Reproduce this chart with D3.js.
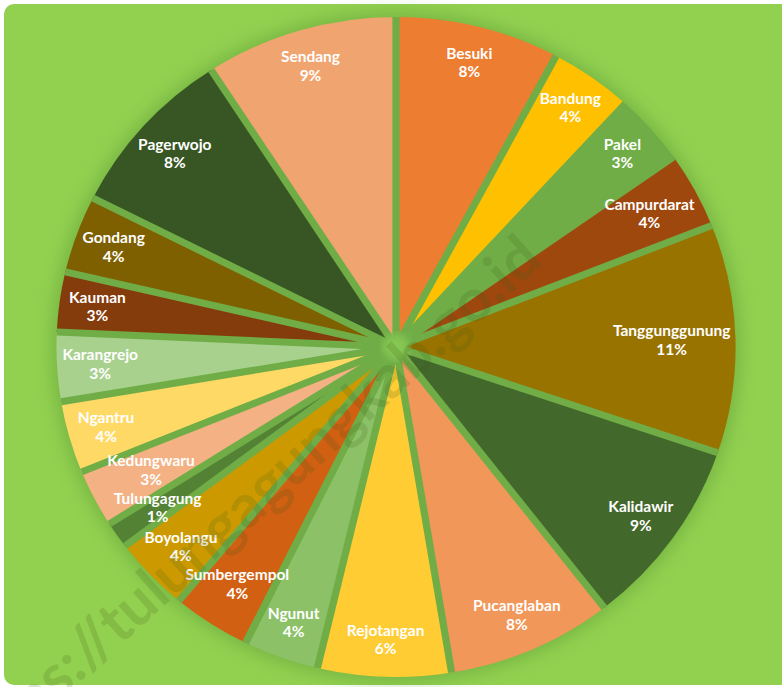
<!DOCTYPE html>
<html>
<head>
<meta charset="utf-8">
<script src="https://cdn.jsdelivr.net/npm/d3@7"></script>
<style>
  html, body { margin: 0; padding: 0; background: #fff; }
  svg { display: block; }
</style>
</head>
<body>
<div class="piechart"></div>
<script>
// luas wilayah per kecamatan (km2), urut searah jarum jam dari atas
var kecamatan = ["Besuki", "Bandung", "Pakel", "Campurdarat", "Tanggunggunung", "Kalidawir",
  "Pucanglaban", "Rejotangan", "Ngunut", "Sumbergempol", "Boyolangu", "Tulungagung",
  "Kedungwaru", "Ngantru", "Karangrejo", "Kauman", "Gondang", "Pagerwojo", "Sendang"];
var luas = [82.16, 41.96, 36.06, 39.56, 117.73, 97.81, 82.94, 66.62, 37.70, 39.28,
  38.44, 13.67, 29.74, 37.03, 35.54, 30.84, 39.92, 88.22, 96.27];
var warna = ["#ED7D31", "#FFC000", "#70AD47", "#9E480E", "#997300", "#43682B",
  "#F1975A", "#FFCD33", "#8CC168", "#D26012", "#CC9A00", "#548235",
  "#F4B183", "#FFD966", "#A9D18E", "#843C0C", "#7F6000", "#375623", "#F0A570"];
var watermark = "https://tulungagungkab.go.id";

var width = 782, height = 687;
var cx = 396, cy = 347, R = 330, sx = 1.029;

var svg = d3.select(".piechart").append("svg")
  .attr("width", width).attr("height", height);

var defs = svg.append("defs");
defs.append("filter").attr("id", "glow").attr("x", "-20%").attr("y", "-20%")
  .attr("width", "140%").attr("height", "140%")
  .append("feGaussianBlur").attr("stdDeviation", 8);
defs.append("filter").attr("id", "soft")
  .append("feGaussianBlur").attr("stdDeviation", 4);

// latar hijau
svg.append("rect").attr("x", 4).attr("y", 4).attr("width", 790).attr("height", 681)
  .attr("rx", 10).attr("fill", "#92D050");

var total = d3.sum(luas);
var pie = d3.pie().sort(null).value(function(d){ return d; });
var arcs = pie(luas);
var arc = d3.arc().innerRadius(0).outerRadius(R);

var plot = svg.append("g").attr("transform", "translate(" + cx + "," + cy + ")");

// bayangan tipis di sekeliling lingkaran
plot.append("ellipse").attr("rx", (R + 5) * sx).attr("ry", R + 5)
  .attr("fill", "#5f9e37").attr("opacity", 0.5).attr("filter", "url(#glow)");

var slices = plot.append("g").attr("transform", "scale(" + sx + ",1)");
slices.selectAll("path")
  .data(arcs)
  .enter().append("path")
  .attr("d", arc)
  .attr("fill", function(d, i){ return warna[i]; });

// garis pemisah antar irisan
slices.selectAll("line")
  .data(arcs)
  .enter().append("line")
  .attr("x1", 0).attr("y1", 0)
  .attr("x2", function(d){ return R * Math.sin(d.startAngle); })
  .attr("y2", function(d){ return -R * Math.cos(d.startAngle); })
  .attr("stroke", "#70AD47")
  .attr("stroke-width", 7);

plot.append("circle").attr("r", 13).attr("fill", "#86c853").attr("filter", "url(#soft)");

// watermark
svg.append("text")
  .attr("transform", "translate(545,263) rotate(-42)")
  .attr("text-anchor", "end")
  .style("font-family", "Lato, sans-serif")
  .style("font-weight", "bold")
  .style("font-size", "60px")
  .attr("fill", "#3d5a14")
  .attr("opacity", 0.17)
  .text(watermark);

// label: nama + persen, digeser ke dalam bila keluar lingkaran / menabrak label lain
var labels = plot.append("g")
  .style("font-family", "Lato, sans-serif")
  .style("font-weight", "bold")
  .style("font-size", "15.5px")
  .attr("fill", "#fff")
  .attr("text-anchor", "middle");

var placed = [];
arcs.forEach(function(d, i){
  var g = labels.append("g");
  var t1 = g.append("text").text(kecamatan[i]);
  var t2 = g.append("text").text(Math.round(d.value / total * 100) + "%");
  var w = Math.max(t1.node().getComputedTextLength(), t2.node().getComputedTextLength());
  var hw = w / 2 / sx;
  var a = (d.startAngle + d.endAngle) / 2;
  var r = 293, lim = 326;
  function box(r){
    var lx = r * Math.sin(a) * sx, ly = -r * Math.cos(a);
    return {x0: lx - w / 2, x1: lx + w / 2, y0: ly - 19.5, y1: ly + 18};
  }
  function fits(r){
    var x = r * Math.sin(a), y = -r * Math.cos(a);
    var inside = [x - hw, x + hw].every(function(px){
      return [y - 15, y + 14].every(function(py){ return Math.hypot(px, py) <= lim; });
    });
    var b = box(r);
    var clear = placed.every(function(p){
      return b.x1 < p.x0 || b.x0 > p.x1 || b.y1 < p.y0 || b.y0 > p.y1;
    });
    return inside && clear;
  }
  while (r > 150 && !fits(r)) r -= 1;
  placed.push(box(r));
  var lx = r * Math.sin(a) * sx, ly = -r * Math.cos(a);
  t1.attr("x", lx).attr("y", ly - 4);
  t2.attr("x", lx).attr("y", ly + 14.5);
});
</script>
</body>
</html>
